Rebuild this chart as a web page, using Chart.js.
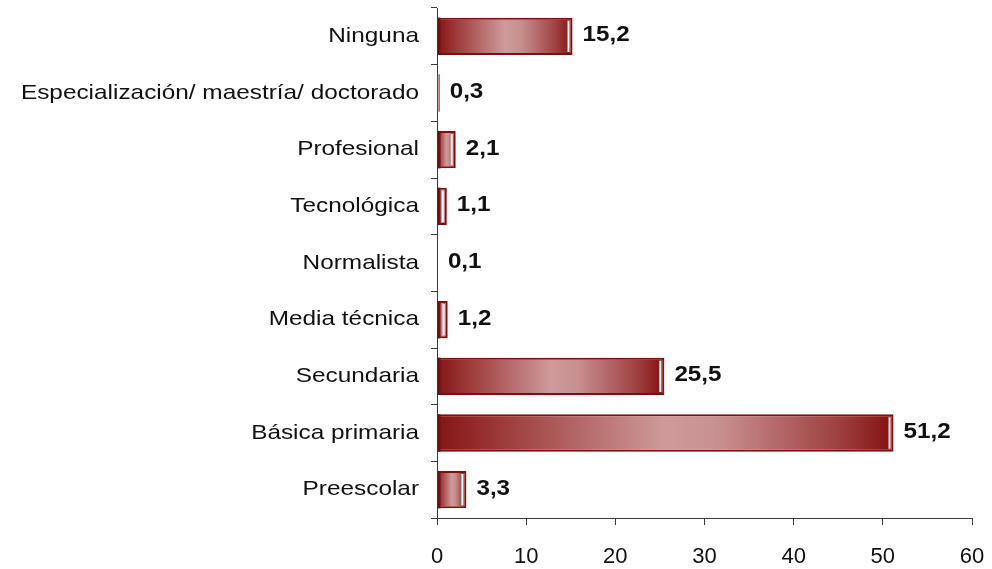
<!DOCTYPE html>
<html>
<head>
<meta charset="utf-8">
<script src="https://cdn.jsdelivr.net/npm/chart.js@4/dist/chart.umd.min.js"></script>
<style>
  html, body { margin: 0; padding: 0; background: #ffffff; }
  #wrap { width: 992px; height: 569px; position: relative; }
</style>
</head>
<body>
<div id="wrap"><canvas id="c" width="992" height="569"></canvas></div>
<script>
// ---- Data ----
const categories = [
  'Ninguna',
  'Especialización/ maestría/ doctorado',
  'Profesional',
  'Tecnológica',
  'Normalista',
  'Media técnica',
  'Secundaria',
  'Básica primaria',
  'Preescolar'
];
const values = [15.2, 0.3, 2.1, 1.1, 0.1, 1.2, 25.5, 51.2, 3.3];
const xTicks = [0, 10, 20, 30, 40, 50, 60];

const FONT = '"Liberation Sans", Arial, Helvetica, sans-serif';
const AXIS_COLOR = '#3a3a3a';

function fmt(v) { return v.toFixed(1).replace('.', ','); }

function barGradient(c) {
  const chart = c.chart;
  const xs = chart.scales && chart.scales.x;
  if (!xs || c.raw === undefined) return '#8a1a1a';
  const x0 = xs.getPixelForValue(0);
  const x1 = xs.getPixelForValue(c.raw);
  if (!isFinite(x0) || !isFinite(x1) || x1 - x0 < 1) return '#8a1a1a';
  const g = chart.ctx.createLinearGradient(x0, 0, x1, 0);
  g.addColorStop(0, '#841414');
  g.addColorStop(0.1, '#962f2f');
  g.addColorStop(0.5, '#cf9a9a');
  g.addColorStop(0.62, '#c88f8f');
  g.addColorStop(0.88, '#9e4040');
  g.addColorStop(1, '#831010');
  return g;
}

const decorPlugin = {
  id: 'decor',
  afterDatasetsDraw(chart) {
    const ctx = chart.ctx;
    const meta = chart.getDatasetMeta(0);
    ctx.save();
    meta.data.forEach((el, i) => {
      const w = el.x - el.base;
      const h = el.height;
      if (w > 7) {
        // darker left edge of the bar
        ctx.fillStyle = '#7a0e0e';
        ctx.fillRect(el.base, el.y - h / 2, 3, h);
        // white highlight stripe near the bar end
        ctx.fillStyle = '#ffffff';
        ctx.fillRect(el.x - 5, el.y - h / 2 + 3, 2, h - 6);
      }
      // value label
      ctx.save();
      ctx.translate(el.x + 10, el.y - 1);
      ctx.scale(1.1, 1);
      ctx.fillStyle = '#111111';
      ctx.font = 'bold 22px ' + FONT;
      ctx.textAlign = 'left';
      ctx.textBaseline = 'middle';
      ctx.fillText(fmt(values[i]), 0, 0);
      ctx.restore();
    });
    ctx.restore();
  },
  afterDraw(chart) {
    // category labels, drawn at the category scale's positions
    const ctx = chart.ctx;
    const ys = chart.scales.y;
    ctx.save();
    ctx.fillStyle = '#111111';
    ctx.font = '21px ' + FONT;
    ctx.textAlign = 'right';
    ctx.textBaseline = 'middle';
    categories.forEach((label, i) => {
      const y = ys.getPixelForValue(i);
      ctx.save();
      ctx.translate(ys.right - 18, y);
      ctx.scale(1.16, 1);
      ctx.fillText(label, 0, 0);
      ctx.restore();
    });
    ctx.restore();
  }
};

new Chart(document.getElementById('c'), {
  type: 'bar',
  data: {
    labels: categories,
    datasets: [{
      data: values,
      backgroundColor: barGradient,
      borderColor: '#7e0f0f',
      borderWidth: (c) => (c.raw !== undefined && c.raw < 0.5 ? 0 : 2),
      borderSkipped: false,
      barPercentage: 0.66,
      categoryPercentage: 1.0
    }]
  },
  options: {
    indexAxis: 'y',
    responsive: false,
    animation: false,
    devicePixelRatio: 1,
    layout: { padding: { top: 8, right: 20, bottom: 0, left: 0 } },
    plugins: {
      legend: { display: false },
      tooltip: { enabled: false }
    },
    scales: {
      x: {
        type: 'linear',
        min: 0,
        max: 60,
        afterBuildTicks: (scale) => { scale.ticks = xTicks.map(v => ({ value: v })); },
        afterFit: (scale) => {
          scale.height = 51;
          scale.paddingLeft = 0;
          scale.paddingRight = 0;
        },
        grid: {
          drawOnChartArea: false,
          drawTicks: true,
          tickLength: 7,
          color: AXIS_COLOR,
          lineWidth: 1
        },
        border: { display: true, color: AXIS_COLOR, width: 1 },
        ticks: {
          padding: 19,
          color: '#111111',
          font: { family: FONT, size: 22 },
          maxRotation: 0
        }
      },
      y: {
        type: 'category',
        afterFit: (scale) => {
          scale.width = 437;
          scale.paddingTop = 0;
          scale.paddingBottom = 0;
        },
        grid: {
          offset: true,
          drawOnChartArea: false,
          drawTicks: true,
          tickLength: 6,
          color: AXIS_COLOR,
          lineWidth: 1
        },
        border: { display: true, color: AXIS_COLOR, width: 1 },
        ticks: {
          display: false,
          autoSkip: false
        }
      }
    }
  },
  plugins: [decorPlugin]
});
</script>
</body>
</html>
